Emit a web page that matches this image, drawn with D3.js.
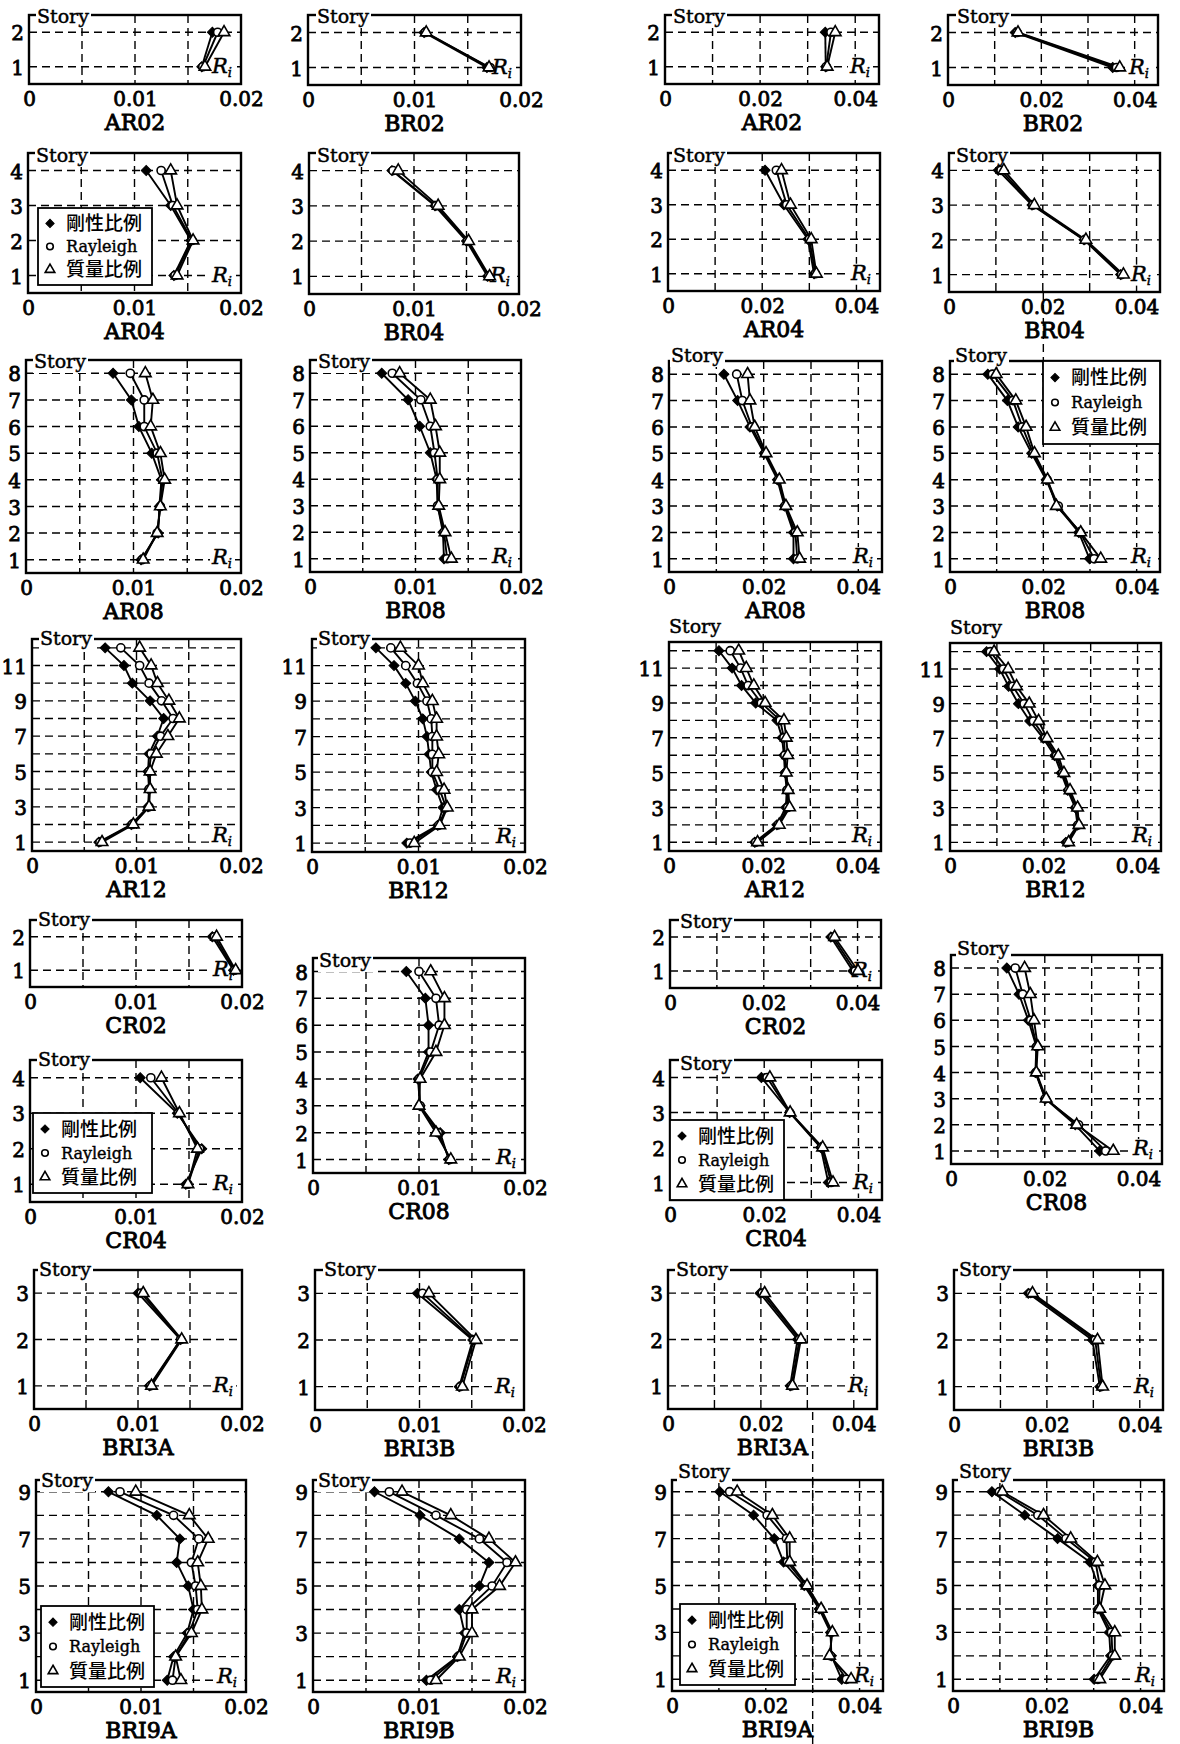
<!DOCTYPE html>
<html lang="ja">
<head>
<meta charset="utf-8">
<title>Story drift angle R_i by damping type</title>
<script src="https://d3js.org/d3.v7.min.js"></script>
<style>
  body { margin: 0; background: #fff; }
  svg text { font-family: "DejaVu Serif", "Noto Sans CJK JP", serif; fill: #000; }
  .num { font-size: 20px; stroke: #000; stroke-width: 0.8px; }
  .title { font-size: 22px; stroke: #000; stroke-width: 0.9px; }
  .story { font-size: 19px; stroke: #000; stroke-width: 0.45px; }
  .ri { font-size: 21px; font-style: italic; stroke: #000; stroke-width: 0.5px; }
  .grid { stroke: #000; stroke-width: 1.4; stroke-dasharray: 8 5; }
  .frame { fill: none; stroke: #000; stroke-width: 2.4; }
  .series { fill: none; stroke: #000; stroke-width: 1.9; }
  .leg rect { fill: #fff; stroke: #000; stroke-width: 1.8; }
  .leg .cjk { font-family: "Noto Sans CJK JP", sans-serif; font-size: 19px; font-weight: 500; }
  .leg .lat { font-size: 16px; stroke: #000; stroke-width: 0.4px; }
</style>
</head>
<body>
<script>
// three damping models, markers: filled diamond, open circle, open triangle
const seriesNames = ["剛性比例", "Rayleigh", "質量比例"];

// x axis ticks, left pair of columns / right pair of columns
const xTicksA = [0, 0.01, 0.02];
const xTicksB = [0, 0.02, 0.04];
const xLabelsA = ["0", "0.01", "0.02"];
const xLabelsB = ["0", "0.02", "0.04"];

// story ticks shown on the left axis
const yTicks2 = [1, 2];
const yTicks3 = [1, 2, 3];
const yTicks4 = [1, 2, 3, 4];
const yTicks8 = [1, 2, 3, 4, 5, 6, 7, 8];
const yTicks9 = [1, 3, 5, 7, 9];
const yTicks12 = [1, 3, 5, 7, 9, 11];

// R_i per story (story 1 first), each row: [剛性比例, Rayleigh, 質量比例]
// left half of the figure (x up to 0.02)
const AR02a = [[0.0163, 0.0164, 0.0166], [0.0173, 0.0178, 0.0184]];
const BR02a = [[0.0168, 0.0171, 0.0170], [0.0109, 0.0110, 0.0111]];
const AR04a = [[0.0137, 0.0138, 0.0140], [0.0153, 0.0154, 0.0155], [0.0134, 0.0136, 0.0140], [0.0111, 0.0125, 0.0134]];
const BR04a = [[0.0170, 0.0171, 0.0172], [0.0150, 0.0151, 0.0152], [0.0120, 0.0121, 0.0123], [0.0079, 0.0080, 0.0085]];
const AR08a = [[0.0107, 0.0108, 0.0109], [0.0123, 0.0122, 0.0122], [0.0124, 0.0125, 0.0125], [0.0126, 0.0127, 0.0129],
               [0.0117, 0.0122, 0.0125], [0.0105, 0.0110, 0.0116], [0.0098, 0.0110, 0.0118], [0.0081, 0.0097, 0.0111]];
const BR08a = [[0.0127, 0.0130, 0.0134], [0.0126, 0.0127, 0.0128], [0.0121, 0.0121, 0.0122], [0.0120, 0.0121, 0.0123],
               [0.0114, 0.0118, 0.0123], [0.0104, 0.0114, 0.0119], [0.0093, 0.0105, 0.0114], [0.0068, 0.0078, 0.0085]];
const AR12a = [[0.0064, 0.0065, 0.0067], [0.0095, 0.0096, 0.0097], [0.0111, 0.0112, 0.0112], [0.0112, 0.0112, 0.0113],
               [0.0111, 0.0112, 0.0113], [0.0112, 0.0114, 0.0119], [0.0120, 0.0123, 0.0130], [0.0126, 0.0135, 0.0141],
               [0.0113, 0.0124, 0.0131], [0.0096, 0.0112, 0.0120], [0.0088, 0.0103, 0.0114], [0.0070, 0.0085, 0.0103]];
const BR12a = [[0.0089, 0.0092, 0.0096], [0.0118, 0.0119, 0.0120], [0.0123, 0.0126, 0.0127], [0.0117, 0.0120, 0.0124],
               [0.0112, 0.0113, 0.0117], [0.0110, 0.0113, 0.0119], [0.0108, 0.0113, 0.0117], [0.0104, 0.0112, 0.0117],
               [0.0097, 0.0108, 0.0113], [0.0088, 0.0099, 0.0104], [0.0077, 0.0088, 0.0100], [0.0060, 0.0074, 0.0083]];
const CR02a = [[0.0192, 0.0193, 0.0194], [0.0172, 0.0174, 0.0176]];
const CR04a = [[0.0147, 0.0149, 0.0149], [0.0162, 0.0160, 0.0158], [0.0139, 0.0140, 0.0141], [0.0104, 0.0114, 0.0124]];
const CR08a = [[0.0128, 0.0129, 0.0130], [0.0120, 0.0118, 0.0116], [0.0101, 0.0101, 0.0100], [0.0099, 0.0100, 0.0101],
               [0.0109, 0.0111, 0.0116], [0.0109, 0.0119, 0.0124], [0.0106, 0.0116, 0.0124], [0.0088, 0.0100, 0.0111]];
const BRI3Aa = [[0.0111, 0.0112, 0.0113], [0.0141, 0.0141, 0.0142], [0.0100, 0.0103, 0.0105]];
const BRI3Ba = [[0.0138, 0.0139, 0.0141], [0.0151, 0.0152, 0.0154], [0.0098, 0.0103, 0.0109]];
const BRI9Aa = [[0.0125, 0.0130, 0.0138], [0.0131, 0.0133, 0.0133], [0.0144, 0.0146, 0.0148], [0.0150, 0.0154, 0.0158],
                [0.0145, 0.0152, 0.0157], [0.0134, 0.0148, 0.0154], [0.0137, 0.0155, 0.0164], [0.0115, 0.0131, 0.0146],
                [0.0069, 0.0080, 0.0095]];
const BRI9Ba = [[0.0107, 0.0111, 0.0116], [0.0136, 0.0137, 0.0138], [0.0143, 0.0145, 0.0150], [0.0138, 0.0145, 0.0150],
                [0.0157, 0.0169, 0.0176], [0.0166, 0.0183, 0.0191], [0.0138, 0.0157, 0.0166], [0.0101, 0.0116, 0.0130],
                [0.0058, 0.0072, 0.0084]];

// right half of the figure (x up to 0.04)
const AR02b = [[0.0338, 0.0339, 0.0341], [0.0337, 0.0349, 0.0358]];
const BR02b = [[0.0353, 0.0361, 0.0368], [0.0144, 0.0148, 0.0150]];
const AR04b = [[0.0310, 0.0313, 0.0315], [0.0297, 0.0300, 0.0304], [0.0246, 0.0252, 0.0260], [0.0206, 0.0230, 0.0241]];
const BR04b = [[0.0366, 0.0368, 0.0372], [0.0288, 0.0289, 0.0292], [0.0177, 0.0179, 0.0182], [0.0105, 0.0111, 0.0117]];
const AR08b = [[0.0263, 0.0271, 0.0276], [0.0263, 0.0267, 0.0271], [0.0244, 0.0245, 0.0247], [0.0229, 0.0231, 0.0233],
               [0.0201, 0.0203, 0.0205], [0.0171, 0.0175, 0.0181], [0.0145, 0.0155, 0.0171], [0.0116, 0.0143, 0.0166]];
const BR08b = [[0.0299, 0.0309, 0.0323], [0.0276, 0.0279, 0.0280], [0.0230, 0.0232, 0.0228], [0.0206, 0.0208, 0.0209],
               [0.0175, 0.0178, 0.0181], [0.0146, 0.0155, 0.0163], [0.0123, 0.0135, 0.0141], [0.0081, 0.0091, 0.0099]];
const AR12b = [[0.0182, 0.0184, 0.0188], [0.0229, 0.0232, 0.0234], [0.0248, 0.0252, 0.0256], [0.0250, 0.0251, 0.0253],
               [0.0246, 0.0248, 0.0249], [0.0244, 0.0246, 0.0252], [0.0240, 0.0244, 0.0249], [0.0229, 0.0236, 0.0244],
               [0.0184, 0.0196, 0.0204], [0.0154, 0.0168, 0.0180], [0.0134, 0.0152, 0.0164], [0.0106, 0.0130, 0.0148]];
const BR12b = [[0.0247, 0.0251, 0.0253], [0.0272, 0.0273, 0.0275], [0.0267, 0.0269, 0.0272], [0.0251, 0.0253, 0.0256],
               [0.0237, 0.0240, 0.0243], [0.0223, 0.0227, 0.0231], [0.0199, 0.0203, 0.0207], [0.0170, 0.0178, 0.0189],
               [0.0146, 0.0158, 0.0169], [0.0125, 0.0134, 0.0142], [0.0106, 0.0114, 0.0124], [0.0078, 0.0086, 0.0094]];
const CR02b = [[0.0390, 0.0395, 0.0401], [0.0343, 0.0347, 0.0351]];
const CR04b = [[0.0336, 0.0342, 0.0346], [0.0320, 0.0322, 0.0324], [0.0254, 0.0254, 0.0255], [0.0194, 0.0206, 0.0212]];
const CR08b = [[0.0317, 0.0330, 0.0346], [0.0265, 0.0272, 0.0268], [0.0201, 0.0201, 0.0203], [0.0180, 0.0181, 0.0182],
               [0.0182, 0.0183, 0.0185], [0.0165, 0.0170, 0.0177], [0.0145, 0.0153, 0.0169], [0.0119, 0.0137, 0.0157]];
const BRI3Ab = [[0.0263, 0.0266, 0.0268], [0.0279, 0.0283, 0.0286], [0.0198, 0.0203, 0.0208]];
const BRI3Bb = [[0.0314, 0.0317, 0.0320], [0.0298, 0.0304, 0.0309], [0.0160, 0.0165, 0.0169]];
const BRI9Ab = [[0.0362, 0.0372, 0.0382], [0.0340, 0.0338, 0.0336], [0.0338, 0.0340, 0.0342], [0.0314, 0.0316, 0.0318],
                [0.0282, 0.0286, 0.0288], [0.0238, 0.0246, 0.0251], [0.0218, 0.0244, 0.0251], [0.0174, 0.0203, 0.0214],
                [0.0102, 0.0123, 0.0139]];
const BRI9Bb = [[0.0301, 0.0309, 0.0313], [0.0336, 0.0340, 0.0345], [0.0333, 0.0338, 0.0345], [0.0309, 0.0311, 0.0313],
                [0.0309, 0.0313, 0.0324], [0.0292, 0.0304, 0.0308], [0.0223, 0.0241, 0.0251], [0.0153, 0.0181, 0.0193],
                [0.0083, 0.0099, 0.0105]];

// panel placement (frame edges in px), "Story" label offset, legend box
const panels = [
  {name: "AR02", data: AR02a, side: "a", yt: yTicks2, L: 29, R: 241, T: 15, B: 84, st: [8, 8]},
  {name: "BR02", data: BR02a, side: "a", yt: yTicks2, L: 308, R: 521, T: 15, B: 85, st: [9, 8]},
  {name: "AR02", data: AR02b, side: "b", yt: yTicks2, L: 665, R: 879, T: 15, B: 84, st: [8, 8]},
  {name: "BR02", data: BR02b, side: "b", yt: yTicks2, L: 948, R: 1158, T: 15, B: 85, st: [9, 8]},

  {name: "AR04", data: AR04a, side: "a", yt: yTicks4, L: 28, R: 241, T: 153, B: 293, st: [8, 9], leg: [38, 208, 114, 77]},
  {name: "BR04", data: BR04a, side: "a", yt: yTicks4, L: 309, R: 519, T: 153, B: 294, st: [8, 9]},
  {name: "AR04", data: AR04b, side: "b", yt: yTicks4, L: 668, R: 880, T: 153, B: 291, st: [5, 9]},
  {name: "BR04", data: BR04b, side: "b", yt: yTicks4, L: 949, R: 1160, T: 153, B: 292, st: [7, 9]},

  {name: "AR08", data: AR08a, side: "a", yt: yTicks8, L: 26, R: 241, T: 360, B: 573, st: [8, 8]},
  {name: "BR08", data: BR08a, side: "a", yt: yTicks8, L: 310, R: 521, T: 360, B: 572, st: [8, 8]},
  {name: "AR08", data: AR08b, side: "b", yt: yTicks8, L: 669, R: 882, T: 361, B: 572, st: [2, 1]},
  {name: "BR08", data: BR08b, side: "b", yt: yTicks8, L: 950, R: 1160, T: 361, B: 572, st: [5, 1], leg: [1043, 361, 117, 83],
   ext: [0.02, 292, 361]},

  {name: "AR12", data: AR12a, side: "a", yt: yTicks12, L: 32, R: 241, T: 639, B: 851, st: [8, 6]},
  {name: "BR12", data: BR12a, side: "a", yt: yTicks12, L: 312, R: 525, T: 639, B: 852, st: [6, 6]},
  {name: "AR12", data: AR12b, side: "b", yt: yTicks12, L: 669, R: 881, T: 642, B: 851, st: [0, -9]},
  {name: "BR12", data: BR12b, side: "b", yt: yTicks12, L: 950, R: 1161, T: 643, B: 851, st: [0, -9]},

  {name: "CR02", data: CR02a, side: "a", yt: yTicks2, L: 30, R: 242, T: 920, B: 987, st: [8, 6]},
  {name: "CR04", data: CR04a, side: "a", yt: yTicks4, L: 30, R: 242, T: 1060, B: 1202, st: [8, 6], leg: [33, 1113, 119, 80]},
  {name: "CR08", data: CR08a, side: "a", yt: yTicks8, L: 313, R: 525, T: 958, B: 1173, st: [6, 9]},
  {name: "CR02", data: CR02b, side: "b", yt: yTicks2, L: 670, R: 881, T: 920, B: 988, st: [10, 8]},
  {name: "CR04", data: CR04b, side: "b", yt: yTicks4, L: 670, R: 882, T: 1060, B: 1200, st: [10, 10], leg: [670, 1120, 114, 80]},
  {name: "CR08", data: CR08b, side: "b", yt: yTicks8, L: 951, R: 1162, T: 955, B: 1164, st: [6, 0]},

  {name: "BRI3A", data: BRI3Aa, side: "a", yt: yTicks3, L: 34, R: 242, T: 1270, B: 1409, st: [5, 6]},
  {name: "BRI3B", data: BRI3Ba, side: "a", yt: yTicks3, L: 315, R: 524, T: 1270, B: 1410, st: [9, 6]},
  {name: "BRI3A", data: BRI3Ab, side: "b", yt: yTicks3, L: 668, R: 877, T: 1270, B: 1409, st: [8, 6]},
  {name: "BRI3B", data: BRI3Bb, side: "b", yt: yTicks3, L: 954, R: 1163, T: 1270, B: 1410, st: [5, 6]},

  {name: "BRI9A", data: BRI9Aa, side: "a", yt: yTicks9, L: 36, R: 246, T: 1480, B: 1692, st: [5, 7], leg: [41, 1606, 113, 81]},
  {name: "BRI9B", data: BRI9Ba, side: "a", yt: yTicks9, L: 313, R: 525, T: 1480, B: 1692, st: [5, 7]},
  {name: "BRI9A", data: BRI9Ab, side: "b", yt: yTicks9, L: 672, R: 883, T: 1480, B: 1691, st: [6, -2], leg: [680, 1604, 115, 81],
   ext: [0.03, 1412, 1744]},
  {name: "BRI9B", data: BRI9Bb, side: "b", yt: yTicks9, L: 953, R: 1164, T: 1480, B: 1691, st: [6, -2]}
];

const W = 1180, H = 1744;
const svg = d3.select("body").append("svg")
  .attr("width", W).attr("height", H)
  .attr("viewBox", `0 0 ${W} ${H}`);
svg.append("rect").attr("width", W).attr("height", H).attr("fill", "#fff");

const markerSymbols = [
  d3.symbol(d3.symbolSquare, 50),   // turned 45 deg -> diamond
  d3.symbol(d3.symbolCircle, 52),
  d3.symbol(d3.symbolTriangle, 58)
];
const legendSymbols = [
  d3.symbol(d3.symbolSquare, 34),
  d3.symbol(d3.symbolCircle, 34),
  d3.symbol(d3.symbolTriangle, 40)
];

function drawMarker(sel, i, syms) {
  const p = sel.append("path").attr("d", syms[i]());
  if (i === 0) p.attr("fill", "#000").attr("stroke", "#000").attr("stroke-width", 1).attr("transform", "rotate(45)");
  else p.attr("fill", "#fff").attr("stroke", "#000").attr("stroke-width", 1.6);
}

function fixAxis(ax) {
  ax.attr("font-size", null).attr("font-family", null);
  ax.select(".domain").remove();
  ax.selectAll("text").attr("class", "num");
}

function drawPanel(p) {
  const N = p.data.length;
  const xmax = p.side === "a" ? 0.02 : 0.045;
  const x = d3.scaleLinear().domain([0, xmax]).range([p.L, p.R]);
  const y = d3.scaleLinear().domain([0.5, N + 0.5]).range([p.B, p.T]);
  const g = svg.append("g");

  // dashed grid
  const gx = x.ticks(4).filter(v => v > 1e-9 && v < xmax - 1e-9);
  g.selectAll(".gv").data(gx).join("line").attr("class", "grid")
    .attr("x1", d => x(d)).attr("x2", d => x(d)).attr("y1", p.T).attr("y2", p.B);
  g.selectAll(".gh").data(d3.range(1, N + 1)).join("line").attr("class", "grid")
    .attr("x1", p.L).attr("x2", p.R).attr("y1", d => y(d)).attr("y2", d => y(d));
  if (p.ext) {
    g.append("line").attr("class", "grid")
      .attr("x1", x(p.ext[0])).attr("x2", x(p.ext[0])).attr("y1", p.ext[1]).attr("y2", p.ext[2]);
  }

  g.append("rect").attr("class", "frame")
    .attr("x", p.L).attr("y", p.T).attr("width", p.R - p.L).attr("height", p.B - p.T);

  // axes
  const ticks = p.side === "a" ? xTicksA : xTicksB;
  const labels = p.side === "a" ? xLabelsA : xLabelsB;
  const ax = g.append("g").attr("transform", `translate(0,${p.B})`)
    .call(d3.axisBottom(x).tickValues(ticks).tickFormat((d, i) => labels[i]).tickSize(0).tickPadding(8));
  fixAxis(ax);
  const ay = g.append("g").attr("transform", `translate(${p.L},0)`)
    .call(d3.axisLeft(y).tickValues(p.yt).tickFormat(d3.format("d")).tickSize(0).tickPadding(5));
  fixAxis(ay);
  ay.selectAll("text").attr("dy", "0.38em");

  g.append("text").attr("class", "title")
    .attr("x", (p.L + p.R) / 2).attr("y", p.B + 46).attr("text-anchor", "middle").text(p.name);

  // "Story" label (white knock-out over the frame line)
  const sx = p.L + p.st[0], sy = p.T + p.st[1];
  g.append("rect").attr("x", sx - 1).attr("y", sy - 15).attr("width", 55).attr("height", 20).attr("fill", "#fff");
  g.append("text").attr("class", "story").attr("x", sx).attr("y", sy).text("Story");

  // R_i label, markers are drawn over it
  const rx = p.R - 29, ry = Math.min(y(1) + 6, p.B - 9);
  g.append("rect").attr("x", rx - 2).attr("y", ry - 16).attr("width", 25).attr("height", 21).attr("fill", "#fff");
  const rt = g.append("text").attr("class", "ri").attr("x", rx).attr("y", ry);
  rt.append("tspan").text("R");
  rt.append("tspan").attr("font-size", 13).attr("dy", 4).text("i");

  // series
  const line = d3.line().x(d => x(d.v)).y(d => y(d.s));
  [0, 1, 2].forEach(k => {
    const pts = p.data.map((row, i) => ({s: i + 1, v: row[k]}));
    g.append("path").attr("class", "series").attr("d", line(pts));
  });
  [0, 1, 2].forEach(k => {
    const pts = p.data.map((row, i) => ({s: i + 1, v: row[k]}));
    g.selectAll(null).data(pts).join("g")
      .attr("transform", d => `translate(${x(d.v)},${y(d.s)})`)
      .each(function () { drawMarker(d3.select(this), k, markerSymbols); });
  });

  // legend
  if (p.leg) {
    const [lx, ly, lw, lh] = p.leg;
    const lg = g.append("g").attr("class", "leg");
    lg.append("rect").attr("x", lx).attr("y", ly).attr("width", lw).attr("height", lh);
    seriesNames.forEach((nm, i) => {
      const cy = ly + lh * (0.2 + 0.3 * i);
      const m = lg.append("g").attr("transform", `translate(${lx + 12},${cy})`);
      drawMarker(m, i, legendSymbols);
      lg.append("text").attr("class", i === 1 ? "lat" : "cjk")
        .attr("x", lx + 28).attr("y", cy).attr("dy", "0.36em").text(nm);
    });
  }
}

panels.forEach(drawPanel);
</script>
</body>
</html>
